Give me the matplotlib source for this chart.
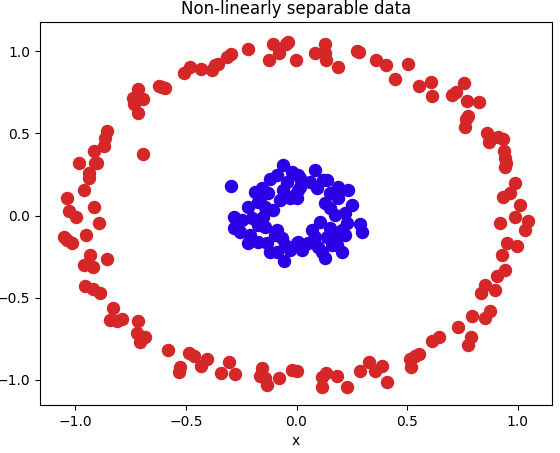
import matplotlib
matplotlib.use("Agg")
import matplotlib.pyplot as plt
import numpy as np

outer_x = [-0.511, -0.481, -0.433, -0.383, -0.368, -0.624, -0.594, -0.609, -0.719, -0.740,
           -0.696, -0.734, -0.717, -0.857, -0.865, -0.869, -0.914, -0.696,
           -0.356, -0.315, -0.296, -0.218, -0.105, -0.124, -0.079, -0.049, -0.037, -0.002,
           0.084, 0.129, 0.129, 0.133, 0.186, 0.272, 0.282, 0.359, 0.403, 0.445,
           0.505, 0.554, 0.610, 0.613, 0.705, 0.720, 0.758, 0.771, 0.825, 0.773, 0.768,
           0.762, 0.859, 0.869, 0.911, 0.934, 0.937,
           0.941, 0.946, 0.944, 0.986, 0.964, 0.934, 1.009, 0.986, 0.922, 1.047, 1.035,
           0.952, 0.997, 0.931, 0.944, 0.908, 0.851,
           0.836, 0.898, 0.874, 0.854, 0.795, 0.731, 0.788, 0.777, 0.645, 0.613, 0.554,
           0.535, 0.512, 0.517, 0.410,
           0.388, 0.357, 0.329, 0.288, 0.228, 0.184, 0.133, 0.117, 0.114, 0.001, -0.019,
           -0.078, -0.132, -0.142, -0.165, -0.154, -0.278, -0.305, -0.342,
           -0.405, -0.431, -0.463, -0.485, -0.526, -0.530, -0.579, -0.684, -0.710, -0.721,
           -0.719, -0.789, -0.812, -0.842, -0.830, -0.887, -0.920, -0.955,
           -0.982, -0.913, -0.902, -0.937, -0.937, -0.962, -1.038, -0.917, -1.027, -0.995,
           -0.892, -0.950, -1.053, -1.038, -1.015, -0.935, -0.857, -0.962, -0.922]
outer_y = [0.864, 0.905, 0.889, 0.885, 0.915, 0.787, 0.773, 0.783, 0.769, 0.718,
           0.706, 0.678, 0.621, 0.516, 0.469, 0.422, 0.394, 0.375,
           0.921, 0.965, 0.980, 1.010, 1.043, 0.945, 0.990, 1.043, 1.055, 0.945,
           0.990, 1.043, 0.986, 0.945, 0.905, 1.002, 0.996, 0.945, 0.915, 0.828,
           0.919, 0.787, 0.810, 0.728, 0.733, 0.753, 0.807, 0.698, 0.688, 0.607, 0.585,
           0.540, 0.500, 0.447, 0.475, 0.467, 0.394,
           0.348, 0.317, 0.293, 0.196, 0.139, 0.111, 0.064, -0.011, -0.047, -0.035, -0.088,
           -0.169, -0.183, -0.240, -0.331, -0.368, -0.422,
           -0.473, -0.453, -0.579, -0.621, -0.611, -0.680, -0.741, -0.789, -0.741, -0.763, -0.842,
           -0.854, -0.872, -0.923, -1.010,
           -0.915, -0.943, -0.889, -0.945, -1.044, -0.974, -0.959, -0.980, -1.044, -0.945, -0.939,
           -0.990, -1.030, -0.990, -0.976, -0.925, -0.966, -0.889, -0.959,
           -0.872, -0.915, -0.852, -0.834, -0.923, -0.953, -0.818, -0.741, -0.767, -0.716,
           -0.640, -0.631, -0.640, -0.635, -0.560, -0.473, -0.447, -0.428,
           0.321, 0.321, 0.317, 0.256, 0.226, 0.155, 0.108, 0.054, 0.029, -0.011,
           -0.044, -0.120, -0.133, -0.149, -0.169, -0.242, -0.266, -0.301, -0.315]

inner_x = [-0.296, -0.060, -0.120, -0.089, -0.022, 0.008, -0.044, -0.157, -0.190, -0.127,
           -0.060, -0.022, -0.074, -0.218, -0.172, -0.142, -0.105, -0.285, -0.247, -0.202,
           -0.172, -0.142, -0.285, -0.255, -0.210, -0.218, -0.172, -0.135, -0.097, -0.067,
           -0.089, -0.052, -0.029, -0.055, 0.001,
           0.084, 0.136, 0.016, 0.061, 0.189, 0.234, 0.008, 0.091, 0.151, 0.189,
           0.249, 0.129, 0.174, 0.219, 0.226, 0.287, 0.294, 0.106, 0.151, 0.204,
           0.069, 0.084, 0.136, 0.181, 0.219, 0.008, 0.053, 0.024, 0.098, 0.159,
           0.204, 0.129, 0.114, -0.007,
           -0.089, -0.029, -0.165, -0.150, -0.120, 0.121, 0.181, 0.151, 0.016, 0.001]
inner_y = [0.181, 0.307, 0.222, 0.246, 0.266, 0.246, 0.206, 0.165, 0.145, 0.135,
           0.155, 0.114, 0.094, 0.054, 0.084, 0.054, 0.033, -0.007, -0.027, -0.017,
           -0.058, -0.068, -0.078, -0.102, -0.119, -0.169, -0.159, -0.169, -0.119, -0.139,
           -0.220, -0.179, -0.210, -0.277, -0.169,
           0.277, 0.216, 0.226, 0.206, 0.175, 0.155, 0.155, 0.165, 0.135, 0.105,
           0.064, 0.074, 0.003, 0.013, -0.047, -0.053, -0.098, -0.038, -0.078, -0.088,
           -0.088, -0.129, -0.129, -0.139, -0.119, -0.159, -0.169, -0.210, -0.190, -0.179,
           -0.220, -0.260, -0.220, 0.125,
           -0.088, 0.105, 0.105, -0.007, -0.220, 0.216, -0.179, 0.044, 0.175, 0.105]

fig = plt.figure(figsize=(5.6, 4.53), dpi=100)
ax = fig.add_axes([0.0714, 0.106, 0.9143, 0.845])
ax.scatter(outer_x, outer_y, s=75, color="#d62728", zorder=2)
ax.scatter(inner_x, inner_y, s=75, color="#2c00e6", zorder=2)
ax.set_xlim(-1.16, 1.155)
ax.set_ylim(-1.152, 1.176)
ax.set_xticks([-1.0, -0.5, 0.0, 0.5, 1.0])
ax.set_yticks([-1.0, -0.5, 0.0, 0.5, 1.0])
ax.set_title("Non-linearly separable data", fontsize=12)
ax.set_xlabel("x")
fig.savefig("out.png", dpi=100)
